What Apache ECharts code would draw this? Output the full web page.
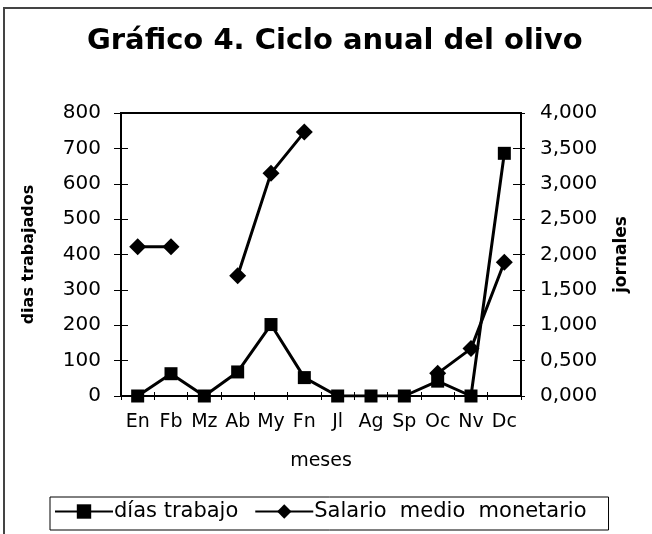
<!DOCTYPE html>
<html>
<head>
<meta charset="utf-8">
<script src="https://cdn.jsdelivr.net/npm/echarts@6/dist/echarts.min.js"></script>
<style>html,body{margin:0;padding:0;background:#fff}#c{width:652px;height:534px}</style>
</head>
<body>
<div id="c"></div>
<script>
const months = ['En','Fb','Mz','Ab','My','Fn','Jl','Ag','Sp','Oc','Nv','Dc'];
const diasTrabajo = [0, 63, 0, 68, 202, 52, 0, 0, 0, 42, 0, 686];
const salarioMedio = [2.11, 2.11, null, 1.70, 3.15, 3.73, null, null, null, 0.32, 0.67, 1.89];
const leftAxis = {min: 0, max: 800, interval: 100};
const rightAxis = {min: 0, max: 4, interval: 0.5};

const FONT = 'DejaVu Sans';
const chart = echarts.init(document.getElementById('c'));
const rightFmt = v => v.toFixed(3).replace('.', ',');
chart.setOption({
  animation: false,
  backgroundColor: '#fff',
  graphic: [{type: 'rect', shape: {x: 4, y: 8, width: 700, height: 600}, style: {fill: 'none', stroke: '#444', lineWidth: 2}, z: -1}],
  title: {
    text: 'Gráfico 4. Ciclo anual del olivo',
    left: 82, top: 22,
    textStyle: {fontFamily: FONT, fontWeight: 'bold', fontSize: 29, color: '#000'}
  },
  grid: {left: 121, right: 131, top: 113, bottom: 138, show: true, borderColor: '#000', borderWidth: 2, backgroundColor: 'transparent'},
  legend: {
    left: 50, top: 497,
    padding: [4, 22, 8, 4],
    borderColor: '#000', borderWidth: 1,
    itemWidth: 58, itemHeight: 18, itemGap: 16,
    lineStyle: {width: 2},
    textStyle: {fontFamily: FONT, fontSize: 21, color: '#000', padding: [0, 0, 0, -4]},
    data: ['días trabajo', 'Salario  medio  monetario']
  },
  xAxis: [{
    type: 'category', data: months, position: 'bottom',
    name: 'meses', nameLocation: 'middle', nameGap: 56,
    nameTextStyle: {fontFamily: FONT, fontSize: 19, color: '#000'},
    axisLine: {lineStyle: {color: '#000', width: 2}},
    axisTick: {show: true, length: 4, lineStyle: {color: '#000', width: 1}},
    axisLabel: {fontFamily: FONT, fontSize: 19, color: '#000', margin: 17, interval: 0},
    splitLine: {show: false}
  }, {
    type: 'category', data: months, position: 'bottom',
    axisLine: {show: false},
    axisTick: {show: true, inside: true, length: 4, lineStyle: {color: '#000', width: 1}},
    axisLabel: {show: false}, splitLine: {show: false}
  }],
  yAxis: [{
    type: 'value', position: 'left', min: leftAxis.min, max: leftAxis.max, interval: leftAxis.interval,
    name: 'dias trabajados', nameLocation: 'middle', nameGap: 84, nameRotate: 90,
    nameTextStyle: {fontFamily: FONT, fontWeight: 'bold', fontSize: 16, color: '#000'},
    axisLine: {show: true, lineStyle: {color: '#000', width: 2}},
    axisTick: {show: true, length: 7, lineStyle: {color: '#000', width: 1}},
    axisLabel: {fontFamily: FONT, fontSize: 20, color: '#000', margin: 20},
    splitLine: {show: false}
  }, {
    type: 'value', position: 'right', min: rightAxis.min, max: rightAxis.max, interval: rightAxis.interval,
    name: 'jornales', nameLocation: 'middle', nameGap: 92, nameRotate: 90,
    nameTextStyle: {fontFamily: FONT, fontWeight: 'bold', fontSize: 17, color: '#000'},
    axisLine: {show: true, lineStyle: {color: '#000', width: 2}},
    axisTick: {show: true, length: 4, lineStyle: {color: '#000', width: 1}},
    axisLabel: {fontFamily: FONT, fontSize: 20, color: '#000', margin: 19, formatter: rightFmt},
    splitLine: {show: false}
  }, {
    type: 'value', position: 'left', min: leftAxis.min, max: leftAxis.max, interval: leftAxis.interval,
    axisLine: {show: false},
    axisTick: {show: true, inside: true, length: 7, lineStyle: {color: '#000', width: 1}},
    axisLabel: {show: false}, splitLine: {show: false}
  }, {
    type: 'value', position: 'right', min: rightAxis.min, max: rightAxis.max, interval: rightAxis.interval,
    axisLine: {show: false},
    axisTick: {show: true, inside: true, length: 8, lineStyle: {color: '#000', width: 1}},
    axisLabel: {show: false}, splitLine: {show: false}
  }],
  series: [{
    name: 'días trabajo', type: 'line', yAxisIndex: 0, data: diasTrabajo,
    symbol: 'rect', symbolSize: 13,
    lineStyle: {color: '#000', width: 3}, itemStyle: {color: '#000'}
  }, {
    name: 'Salario  medio  monetario', type: 'line', yAxisIndex: 1, data: salarioMedio,
    symbol: 'diamond', symbolSize: 17, connectNulls: false,
    lineStyle: {color: '#000', width: 3}, itemStyle: {color: '#000'}
  }]
});
</script>
</body>
</html>
